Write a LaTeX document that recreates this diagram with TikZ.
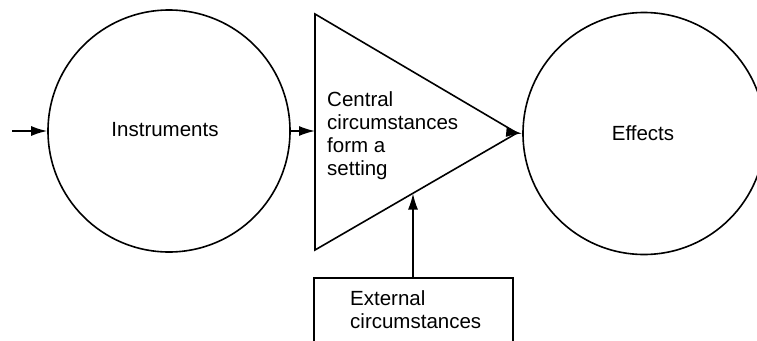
\documentclass[tikz,border=0pt]{standalone}
\usepackage{fontspec}
\setmainfont{Liberation Sans}
\usetikzlibrary{arrows.meta}
\begin{document}
\begin{tikzpicture}[x=1pt,y=-1pt,
  line/.style={line width=1.6pt},
  arr/.style={line, -{Latex[length=16pt,width=10pt]}},
  circ/.style={circle, draw, line width=1.6pt, minimum size=242pt, inner sep=0pt},
  lbl/.style={font=\fontsize{20.5pt}{23pt}\selectfont, inner sep=0pt, align=left, anchor=base west}]
\useasboundingbox (0,0) rectangle (757,340);
% circles
\node[circ] (instr) at (169,131) {};
\node[circ] (eff) at (644,133.5) {};
\node[lbl, anchor=base] (tinstr) at (165,136) {Instruments};
\node[lbl, anchor=base] (teff) at (643,140) {Effects};
% triangle
\coordinate (ta) at (315,14);
\coordinate (tb) at (315,250);
\coordinate (tp) at (517,133);
\draw[line, line join=miter] (ta) -- (tp) -- (tb) -- cycle;
\node[lbl] (tcent) at (327,175) {Central\\circumstances\\form a\\setting};
% box (cut by the page edge)
\node[draw, line width=1.6pt, minimum width=199pt, minimum height=90pt, inner sep=0pt, anchor=north west] (box) at (313,277) {};
\node[lbl] (text) at (350,328) {External\\circumstances};
% connectors
\coordinate (in) at (12,131);
\coordinate (tin) at (315,131);
\coordinate (bot) at (413,193.5);
\draw[arr] (in) -- (instr.west);
\draw[arr] (instr.east) -- (tin);
\draw[arr] (tp) -- (eff.west);
\draw[arr] (box.north -| bot) -- (bot);
\end{tikzpicture}
\end{document}
